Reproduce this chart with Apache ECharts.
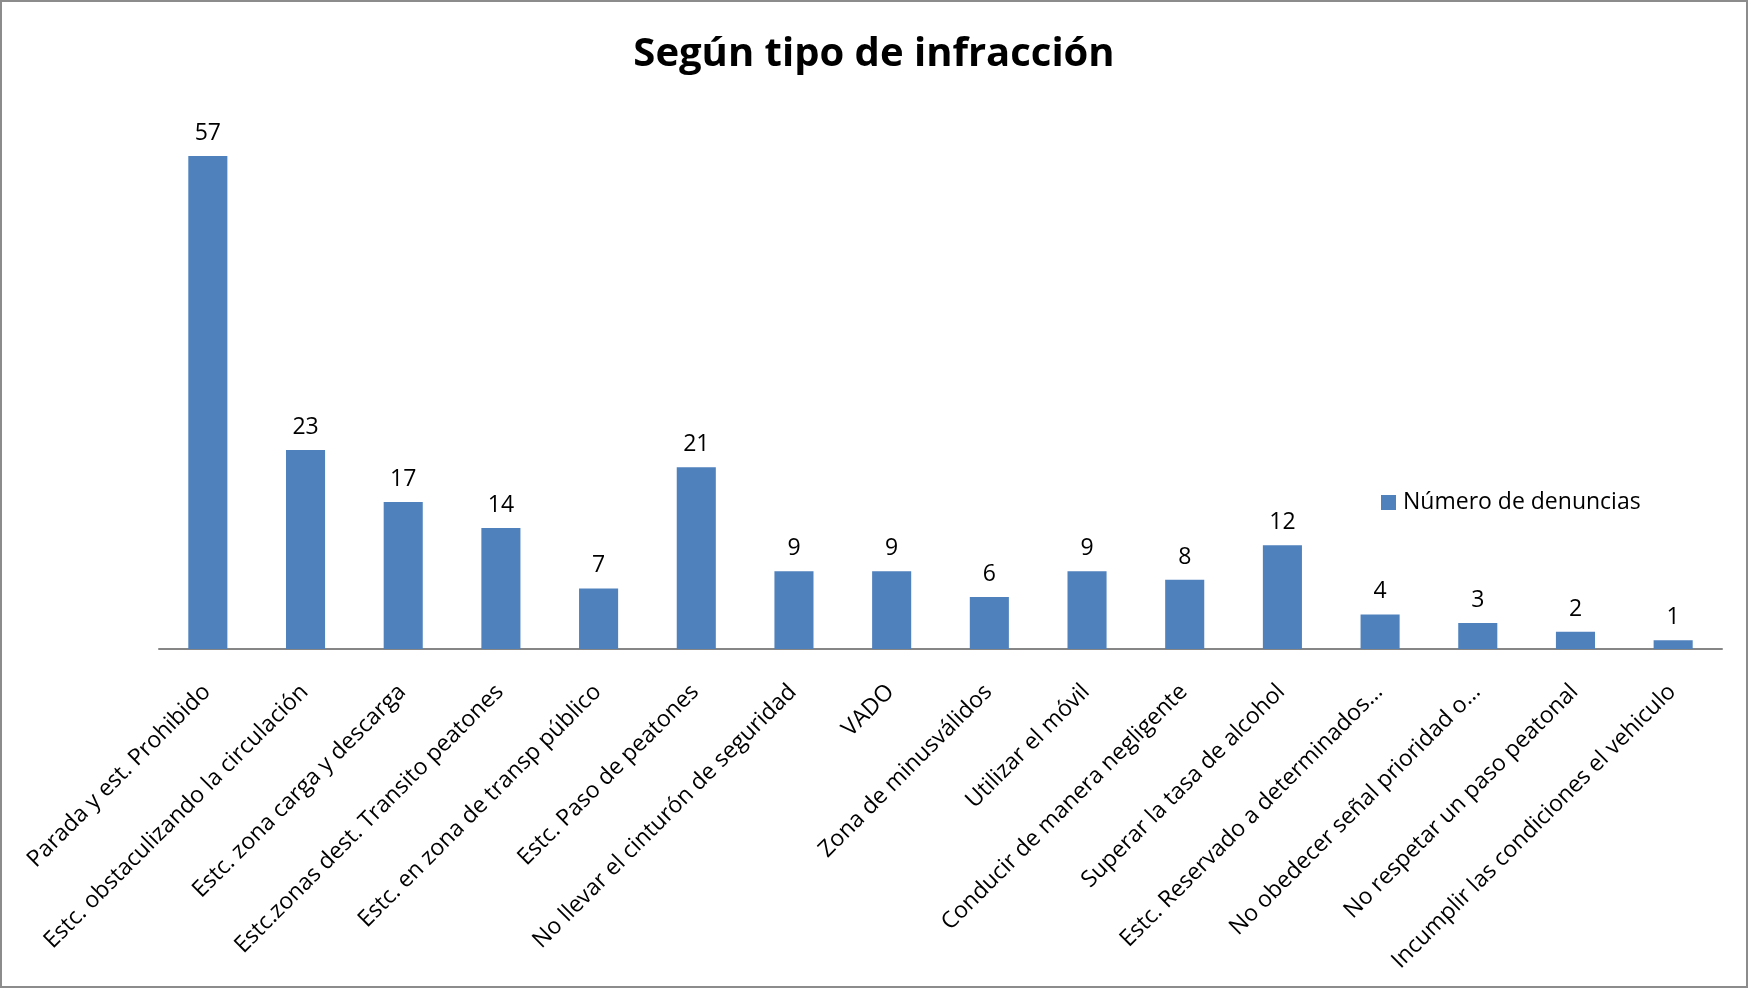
<!DOCTYPE html>
<html>
<head>
<meta charset="utf-8">
<script src="https://cdn.jsdelivr.net/npm/echarts@6/dist/echarts.min.js"></script>
<style>
html,body{margin:0;padding:0;background:#fff;}
#chart{width:1748px;height:988px;}
</style>
</head>
<body>
<div id="chart"></div>
<script>
const titleText = 'Según tipo de infracción';
const seriesName = 'Número de denuncias';
const categories = [
  'Parada y est. Prohibido',
  'Estc. obstaculizando la circulación',
  'Estc. zona carga y descarga',
  'Estc.zonas dest. Transito peatones',
  'Estc. en zona de transp público',
  'Estc. Paso de peatones',
  'No llevar el cinturón de seguridad',
  'VADO',
  'Zona de minusválidos',
  'Utilizar el móvil',
  'Conducir de manera negligente',
  'Superar la tasa de alcohol',
  'Estc. Reservado a determinados…',
  'No obedecer señal prioridad o…',
  'No respetar un paso peatonal',
  'Incumplir las condiciones el vehiculo'
];
const values = [57, 23, 17, 14, 7, 21, 9, 9, 6, 9, 8, 12, 4, 3, 2, 1];

const FONT = '"Open Sans", "Noto Sans", sans-serif';
const chart = echarts.init(document.getElementById('chart'), null, {renderer: 'canvas'});
chart.setOption({
  animation: false,
  backgroundColor: '#ffffff',
  title: {
    text: titleText,
    left: 'center',
    top: 30,
    textStyle: {fontFamily: FONT, fontWeight: 'bold', fontSize: 40, color: '#000000'}
  },
  legend: {
    left: 1376,
    top: 486,
    icon: 'rect',
    itemWidth: 15,
    itemHeight: 15,
    itemGap: 10,
    textStyle: {fontFamily: FONT, fontSize: 23, color: '#000000', padding: [0, 0, 0, 2]},
    data: [seriesName]
  },
  graphic: [{
    type: 'rect',
    shape: {x: 1, y: 1, width: 1746, height: 986},
    style: {fill: 'none', stroke: '#8c8c8c', lineWidth: 2},
    silent: true
  }],
  grid: {left: 159, right: 26, top: 130, bottom: 339, containLabel: false},
  xAxis: {
    type: 'category',
    data: categories,
    axisTick: {show: false},
    axisLine: {lineStyle: {color: '#868686', width: 2}},
    axisLabel: {
      interval: 0,
      rotate: 45,
      margin: 22,
      verticalAlign: 'top',
      padding: [0, 13, 0, 0],
      fontFamily: FONT,
      fontSize: 23,
      color: '#000000'
    }
  },
  yAxis: {
    type: 'value',
    min: 0,
    max: 60,
    interval: 10,
    show: false,
    splitLine: {show: false}
  },
  series: [{
    name: seriesName,
    type: 'bar',
    data: values,
    barCategoryGap: '60%',
    itemStyle: {color: '#4f81bd'},
    label: {
      show: true,
      position: 'top',
      distance: 11,
      fontFamily: FONT,
      fontSize: 23,
      color: '#000000'
    }
  }]
});
</script>
</body>
</html>
